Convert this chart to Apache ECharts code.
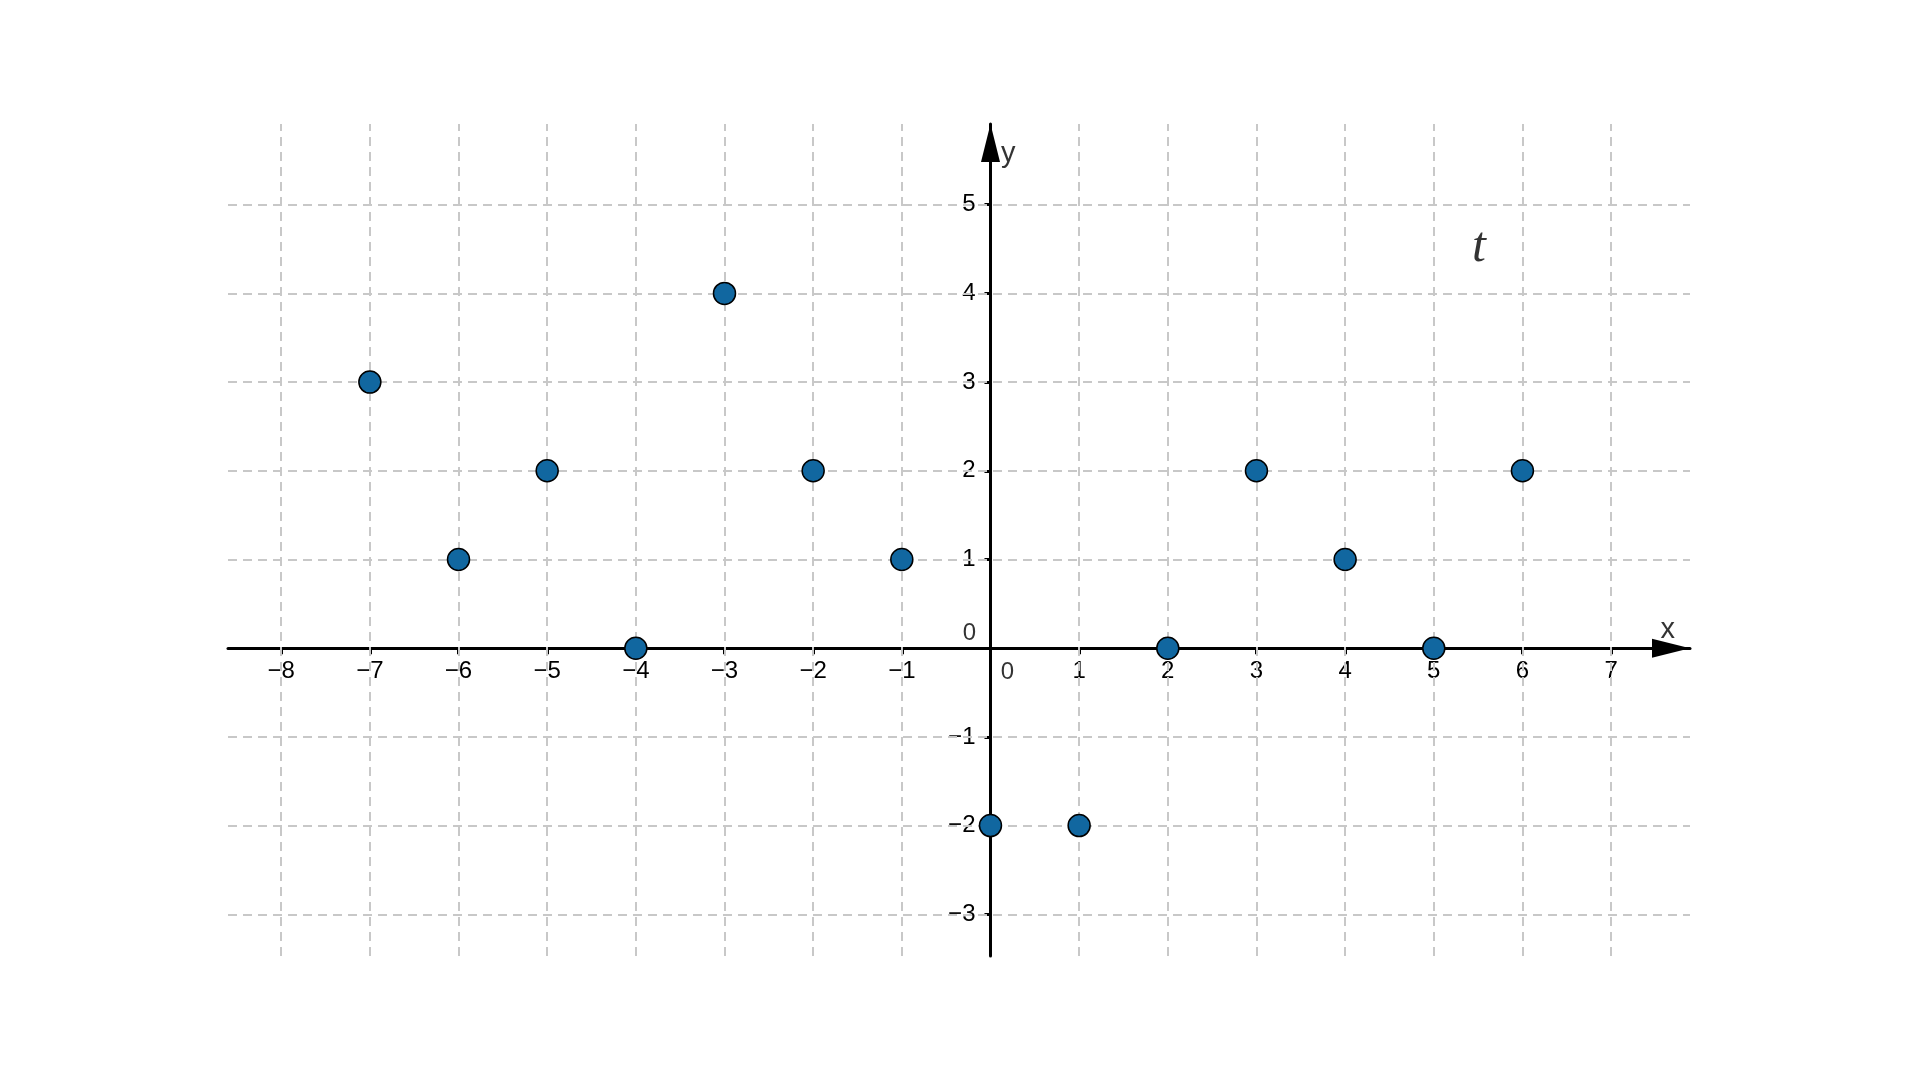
<!DOCTYPE html>
<html>
<head>
<meta charset="utf-8">
<title>t</title>
<script src="https://cdn.jsdelivr.net/npm/echarts@6/dist/echarts.min.js"></script>
<style>
html, body { margin: 0; padding: 0; background: #fff; }
#chart { width: 1920px; height: 1080px; }
</style>
</head>
<body>
<div id="chart"></div>
<script>
// 点的坐标
const xValues = [-7, -6, -5, -4, -3, -2, -1, 0, 1, 2, 3, 4, 5, 6];
const yValues = [3, 1, 2, 0, 4, 2, 1, -2, -2, 0, 2, 1, 0, 2];
// 刻度（0 单独处理）
const xTicks = [-8, -7, -6, -5, -4, -3, -2, -1, 1, 2, 3, 4, 5, 6, 7];
const yTicks = [-3, -2, -1, 1, 2, 3, 4, 5];

const points = xValues.map((x, i) => [x, yValues[i]]);
// 负号用 U+2212
const minus = v => String(v).replace('-', '\u2212');

const GRID = { left: 228, right: 230, top: 124, bottom: 124 };

const axisLineStyle = {
  onZero: false,
  symbol: ['none', 'triangle'],
  symbolSize: [19, 38],
  symbolOffset: [0, -19],
  lineStyle: { color: '#000', width: 3 }
};
const labelStyle = {
  formatter: minus,
  fontSize: 24,
  color: '#000',
  fontFamily: 'Liberation Sans'
};

const mychart = echarts.init(document.getElementById('chart'));
mychart.setOption({
  animation: false,
  grid: GRID,
  xAxis: {
    type: 'value',
    position: 'bottom',
    min: -8.6,
    max: 7.89,
    axisLine: axisLineStyle,
    axisTick: { show: true, customValues: xTicks, length: 6, lineStyle: { color: '#000', width: 3 } },
    axisLabel: Object.assign({ customValues: xTicks, margin: 11 }, labelStyle),
    splitLine: { show: false }
  },
  yAxis: {
    type: 'value',
    position: 'left',
    min: -3.47,
    max: 5.91,
    axisLine: axisLineStyle,
    axisTick: { show: true, customValues: yTicks, length: 6, lineStyle: { color: '#000', width: 3 } },
    axisLabel: Object.assign({ customValues: yTicks, margin: 15 }, labelStyle),
    splitLine: { show: false }
  },
  series: [
    {
      // 虚线网格
      type: 'line',
      data: [],
      z: 1,
      silent: true,
      markLine: {
        silent: true,
        animation: false,
        symbol: 'none',
        label: { show: false },
        lineStyle: { color: '#c8c8c8', width: 2, type: [9, 6] },
        emphasis: { disabled: true },
        data: [
          ...yTicks.map(v => ({ yAxis: v })),
          ...xTicks.map(v => ({ xAxis: v }))
        ]
      }
    },
    {
      type: 'scatter',
      data: points,
      z: 5,
      symbolSize: 22,
      itemStyle: { color: '#1167a0', borderColor: '#000', borderWidth: 1.5, opacity: 1 },
      emphasis: { disabled: true }
    },
    {
      // 文字标注
      type: 'scatter',
      z: 4,
      silent: true,
      symbolSize: 0,
      label: {
        show: true,
        position: 'inside',
        fontSize: 24,
        color: '#000',
        fontFamily: 'Liberation Sans'
      },
      data: [
        { value: [0, 0], label: { formatter: '0', offset: [17, 24] } },
        { value: [0, 0], label: { formatter: '0', offset: [-21, -15] } },
        { value: [7.64, 0.2], label: { formatter: 'x', fontSize: 29 } },
        { value: [0.2, 5.57], label: { formatter: 'y', fontSize: 29 } },
        { value: [5.51, 4.51], label: { formatter: 't', fontSize: 50, fontStyle: 'italic', fontFamily: 'Liberation Serif' } }
      ]
    }
  ]
});

// 把坐标轴移到原点处
const zero = mychart.convertToPixel({ gridIndex: 0 }, [0, 0]);
mychart.setOption({
  xAxis: { offset: zero[1] - (1080 - GRID.bottom) },
  yAxis: { offset: GRID.left - zero[0] }
});

window.onresize = function () {
  mychart.resize();
};
</script>
</body>
</html>
